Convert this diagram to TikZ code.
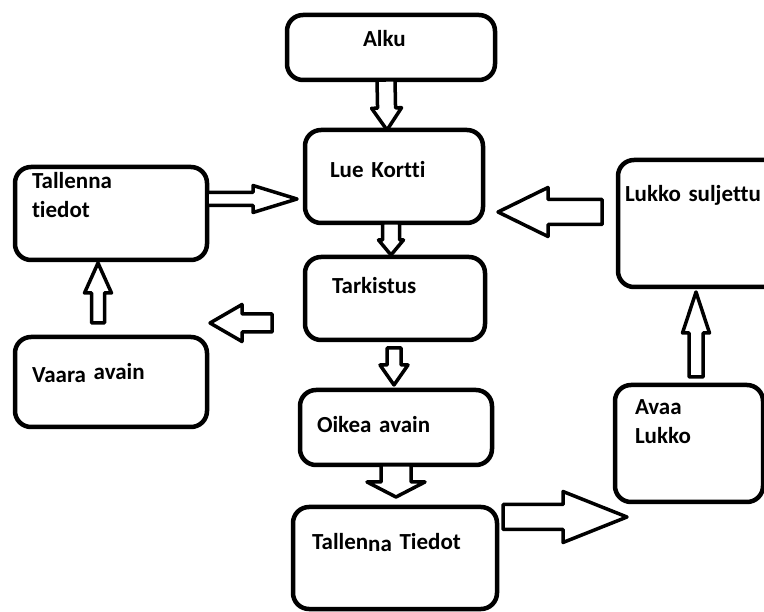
\documentclass[tikz,border=0pt]{standalone}
\usepackage{fontspec}
\setmainfont{Carlito}[Ligatures={NoCommon,NoRare}]
\usetikzlibrary{calc}

\tikzset{
    flowbox/.style={draw, line width=4.5pt, rounded corners=16pt, outer sep=0pt,
        inner ysep=0pt, anchor=north west, align=left,
        font=\bfseries\fontsize{23}{28.5}\selectfont},
    arrowline/.style={draw, line width=3.5pt, line join=round, fill=white}
}

% block arrow: from, to, half shaft, half head, head length
\newcommand\blockarrow[5]{%
    \coordinate (ba-base) at ($(#2)!#5!(#1)$);
    \path[arrowline] ($(#1)!#3!90:(#2)$) -- ($(ba-base)!#3!90:(#2)$)
        -- ($(ba-base)!#4!90:(#2)$) -- (#2) -- ($(ba-base)!#4!-90:(#2)$)
        -- ($(ba-base)!#3!-90:(#2)$) -- ($(#1)!#3!-90:(#2)$) -- cycle;
}

\begin{document}
\begin{tikzpicture}[x=1pt,y=-1pt]
    \useasboundingbox (0,0) rectangle (764,612);
    \clip (0,0) rectangle (764,612);
    % middle column
    \node[flowbox, minimum width=208pt, minimum height=65pt, inner xsep=76pt,
        text width=56pt, text height=32pt, text depth=33pt] (alku) at (287,15) {Alku};
    \node[flowbox, minimum width=178pt, minimum height=93pt, inner xsep=25pt,
        text width=128pt, text height=48pt, text depth=45pt] (lue) at (305,130) {Lue Kortti};
    \node[flowbox, minimum width=180pt, minimum height=83pt, inner xsep=27pt,
        text width=126pt, text height=37pt, text depth=46pt] (tark) at (305,257) {Tarkistus};
    \node[flowbox, minimum width=192pt, minimum height=75pt, inner xsep=17pt,
        text width=158pt, text height=43pt, text depth=32pt] (oikea) at (300,390) {Oikea avain};
    \node[flowbox, minimum width=204pt, minimum height=102pt, inner xsep=19pt,
        text width=166pt, text height=43pt, text depth=59pt] (tallT) at (293,507) {Tallen\raisebox{-1.5pt}{na} Tiedot};
    % left column
    \node[flowbox, minimum width=192pt, minimum height=93pt, inner xsep=17pt,
        text width=158pt, text height=22pt, text depth=71pt] (talt) at (15,167) {Tallenna\\tiedot};
    \node[flowbox, minimum width=192pt, minimum height=90pt, inner xsep=17pt,
        text width=158pt, text height=46pt, text depth=44pt] (vaara) at (15,337) {Vaara \raisebox{3pt}{avain}};
    % right column
    \node[flowbox, minimum width=172pt, minimum height=127pt, inner xsep=7pt,
        text width=158pt, text height=42pt, text depth=85pt] (lukko) at (618,160) {Lukko suljettu};
    \node[flowbox, minimum width=148pt, minimum height=117pt, inner xsep=20pt,
        text width=108pt, text height=30pt, text depth=87pt] (avaa) at (615,385) {Avaa\\Lukko};

    \blockarrow{[xshift=-5pt]alku.south}{[xshift=-7pt]lue.north}{9pt}{15pt}{22pt}
    \blockarrow{[yshift=14.5pt]talt.east}{[xshift=-8pt,yshift=-22.5pt]lue.west}{6.5pt}{13.5pt}{44pt}
    \blockarrow{[xshift=-16pt,yshift=11.5pt]lukko.west}{[xshift=15pt,yshift=-35.5pt]lue.east}{12.5pt}{24.5pt}{50pt}
    \blockarrow{[xshift=-3pt]lue.south}{[xshift=-4pt,yshift=2pt]tark.north}{8.5pt}{12.5pt}{15pt}
    \blockarrow{[xshift=-13pt,yshift=14pt]vaara.north}{[xshift=-13pt,yshift=-3pt]talt.south}{6.5pt}{13.5pt}{30pt}
    \blockarrow{[xshift=-33pt,yshift=-24.5pt]tark.west}{[xshift=3pt,yshift=59pt]vaara.east}{9pt}{18.5pt}{32pt}
    \blockarrow{[xshift=-1pt,yshift=-8pt]tark.south}{[xshift=-2pt,yshift=5pt]oikea.north}{7pt}{14pt}{20pt}
    \blockarrow{oikea.south}{[xshift=1pt,yshift=10pt]tallT.north}{15pt}{29pt}{15pt}
    \blockarrow{[xshift=6pt,yshift=41pt]tallT.east}{[xshift=12pt,yshift=-15pt]avaa.south west}{12.5pt}{25.5pt}{64pt}
    \blockarrow{[xshift=7pt,yshift=8pt]avaa.north}{[xshift=-8pt,yshift=-5pt]lukko.south}{7pt}{13.5pt}{41pt}
\end{tikzpicture}
\end{document}
